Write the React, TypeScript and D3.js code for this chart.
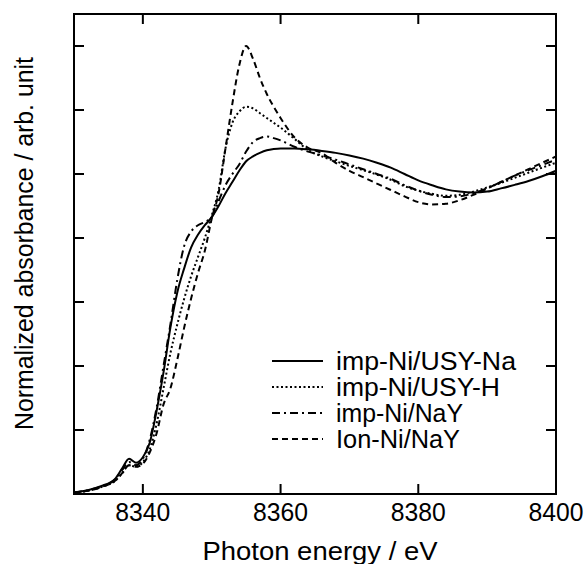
import React from 'react';
import * as d3 from 'd3';

// photon energy grid (eV)
const energy = [8330, 8332, 8334, 8336, 8337, 8338, 8339, 8340, 8341, 8342, 8343, 8344, 8345, 8346, 8347, 8348, 8349, 8350, 8351, 8352, 8353, 8354, 8355, 8356, 8357, 8358, 8359, 8360, 8362, 8364, 8366, 8368, 8370, 8372, 8374, 8376, 8378, 8380, 8382, 8384, 8386, 8388, 8390, 8392, 8394, 8396, 8398, 8400];

const usyNa = [0.005, 0.012, 0.025, 0.048, 0.08, 0.11, 0.098, 0.115, 0.16, 0.26, 0.38, 0.52, 0.63, 0.705, 0.77, 0.81, 0.84, 0.865, 0.9, 0.94, 0.975, 1.01, 1.04, 1.055, 1.066, 1.074, 1.078, 1.08, 1.08, 1.077, 1.072, 1.066, 1.058, 1.048, 1.035, 1.02, 1.0, 0.98, 0.965, 0.952, 0.945, 0.942, 0.945, 0.955, 0.966, 0.978, 0.993, 1.01];
const usyH = [0.004, 0.01, 0.022, 0.042, 0.065, 0.09, 0.085, 0.1, 0.14, 0.22, 0.33, 0.44, 0.53, 0.61, 0.68, 0.74, 0.8, 0.87, 0.95, 1.08, 1.16, 1.195, 1.21, 1.205, 1.19, 1.175, 1.16, 1.145, 1.11, 1.075, 1.055, 1.04, 1.025, 1.012, 0.998, 0.982, 0.962, 0.948, 0.938, 0.932, 0.935, 0.945, 0.958, 0.972, 0.988, 1.004, 1.02, 1.035];
const naY = [0.005, 0.012, 0.024, 0.046, 0.075, 0.1, 0.09, 0.11, 0.17, 0.27, 0.4, 0.53, 0.67, 0.775, 0.82, 0.84, 0.85, 0.865, 0.915, 0.965, 1.0, 1.03, 1.07, 1.1, 1.112, 1.117, 1.112, 1.105, 1.085, 1.07, 1.058, 1.045, 1.03, 1.015, 1.0, 0.985, 0.965, 0.948, 0.935, 0.928, 0.93, 0.94, 0.955, 0.975, 0.995, 1.012, 1.028, 1.045];
const ionNaY = [0.004, 0.01, 0.022, 0.042, 0.065, 0.09, 0.085, 0.095, 0.13, 0.19, 0.28, 0.33, 0.42, 0.52, 0.61, 0.69, 0.76, 0.86, 0.94, 1.08, 1.22, 1.34, 1.4, 1.36, 1.3, 1.25, 1.21, 1.175, 1.115, 1.082, 1.065, 1.035, 1.01, 0.99, 0.97, 0.95, 0.93, 0.912, 0.905, 0.907, 0.918, 0.935, 0.955, 0.975, 0.995, 1.015, 1.035, 1.055];

const seriesNames = ['imp-Ni/USY-Na', 'imp-Ni/USY-H', 'imp-Ni/NaY', 'Ion-Ni/NaY'];
const seriesValues = [usyNa, usyH, naY, ionNaY];
const dashes = ['none', '2,2.5', '8,4,2,4', '6,4'];
const legendWidths = [180, 164, 127, 124];

const xTicks = [8340, 8360, 8380, 8400];
const yTicks = [0.2, 0.4, 0.6, 0.8, 1.0, 1.2, 1.4];

const W = 584;
const H = 564;
const margin = { top: 14, right: 28, bottom: 70, left: 74 };
const font = 'Liberation Sans, Arial, Helvetica, sans-serif';

export default function App() {
  const x = d3.scaleLinear().domain([8330, 8400]).range([margin.left, W - margin.right]);
  const y = d3.scaleLinear().domain([0, 1.5]).range([H - margin.bottom, margin.top]);

  const line = d3.line<number>()
    .x((_, i) => x(energy[i]))
    .y(d => y(d))
    .curve(d3.curveMonotoneX);

  const x0 = x.range()[0], x1 = x.range()[1];
  const y0 = y.range()[0], y1 = y.range()[1];
  const tick = 10;

  return (
    <svg width={W} height={H} style={{ position: 'absolute', left: 0, top: 0, background: '#fff' }}>
      <defs>
        <clipPath id="plot">
          <rect x={x0} y={y1} width={x1 - x0} height={y0 - y1} />
        </clipPath>
      </defs>
      <g clipPath="url(#plot)">
        {seriesValues.map((vals, i) => (
          <path key={i} d={line(vals) || ''} fill="none" stroke="#000"
            strokeWidth={2} strokeDasharray={dashes[i]} />
        ))}
      </g>

      {/* frame */}
      <rect x={x0} y={y1} width={x1 - x0} height={y0 - y1} fill="none" stroke="#000" strokeWidth={2} />

      {/* ticks, all pointing inwards */}
      {xTicks.filter(t => t < 8400).map(t => (
        <g key={t}>
          <line x1={x(t)} x2={x(t)} y1={y0} y2={y0 - tick} stroke="#000" strokeWidth={2} />
          <line x1={x(t)} x2={x(t)} y1={y1} y2={y1 + tick} stroke="#000" strokeWidth={2} />
        </g>
      ))}
      {yTicks.map(t => (
        <g key={t}>
          <line x1={x0} x2={x0 + tick} y1={y(t)} y2={y(t)} stroke="#000" strokeWidth={2} />
          <line x1={x1} x2={x1 - tick} y1={y(t)} y2={y(t)} stroke="#000" strokeWidth={2} />
        </g>
      ))}

      {xTicks.map(t => (
        <text key={t} x={x(t)} y={521} textAnchor="middle" fontFamily={font} fontSize={25}
          textLength={55} lengthAdjust="spacingAndGlyphs">{t}</text>
      ))}

      <text x={320} y={560} textAnchor="middle" fontFamily={font} fontSize={25}
        textLength={235} lengthAdjust="spacingAndGlyphs">Photon energy / eV</text>
      <text transform={`translate(33,${(57 + 430) / 2}) rotate(-90)`} textAnchor="middle"
        fontFamily={font} fontSize={25} textLength={373} lengthAdjust="spacingAndGlyphs">
        Normalized absorbance / arb. unit
      </text>

      {/* legend */}
      {seriesNames.map((name, i) => {
        const ly = 361 + i * 26;
        return (
          <g key={name}>
            <line x1={272} x2={323} y1={ly} y2={ly} stroke="#000" strokeWidth={2} strokeDasharray={dashes[i]} />
            <text x={336} y={ly + 9} fontFamily={font} fontSize={25}
              textLength={legendWidths[i]} lengthAdjust="spacingAndGlyphs">{name}</text>
          </g>
        );
      })}
    </svg>
  );
}
